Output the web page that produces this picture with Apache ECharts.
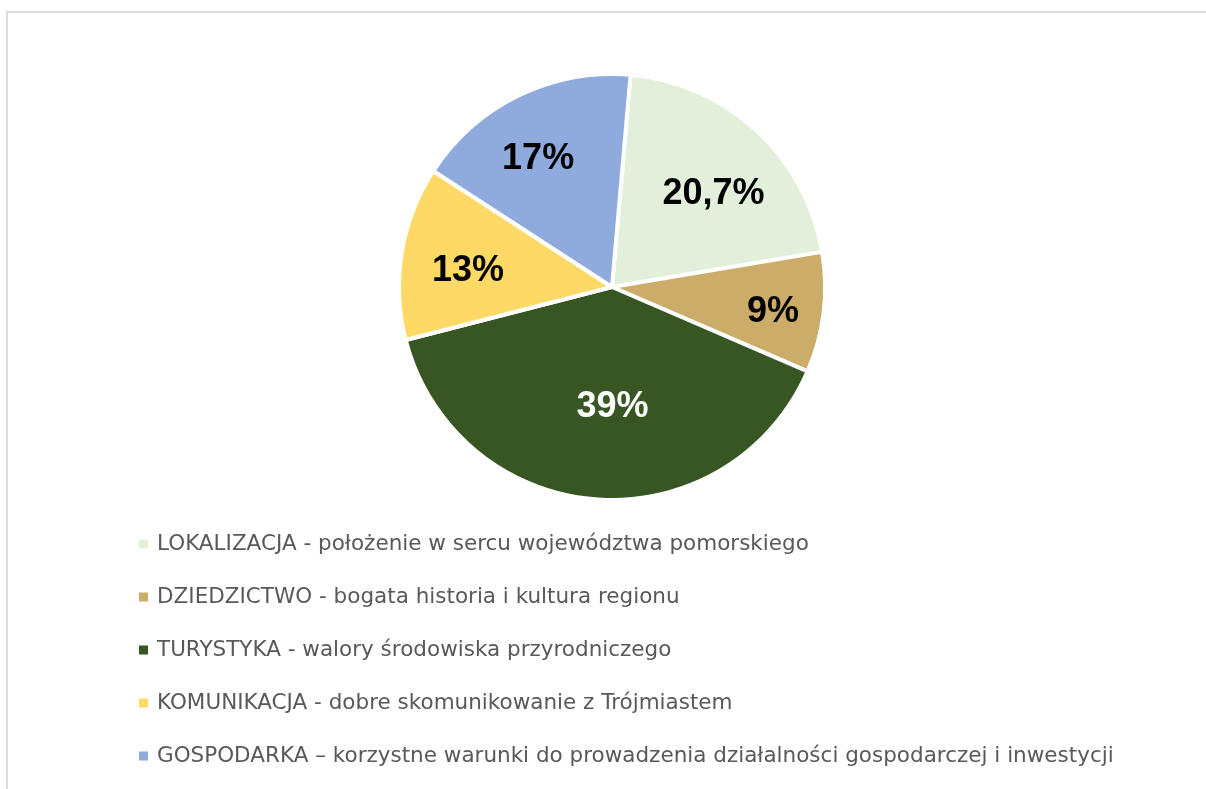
<!DOCTYPE html>
<html>
<head>
<meta charset="utf-8">
<script src="https://cdn.jsdelivr.net/npm/echarts@6/dist/echarts.min.js"></script>
<style>
  html, body { margin: 0; padding: 0; background: #fff; }
  #chart { width: 1206px; height: 789px; }
</style>
</head>
<body>
<div id="chart"></div>
<script>
// Categories, shares (%) and slice colours
const categories = [
  'LOKALIZACJA - położenie w sercu województwa pomorskiego',
  'DZIEDZICTWO - bogata historia i kultura regionu',
  'TURYSTYKA - walory środowiska przyrodniczego',
  'KOMUNIKACJA - dobre skomunikowanie z Trójmiastem',
  'GOSPODARKA – korzystne warunki do prowadzenia działalności gospodarczej i inwestycji'
];
const values = [20.7, 9, 39, 13, 17];
const valueLabels = ['20,7%', '9%', '39%', '13%', '17%'];
const colors = ['#E2EFDA', '#CCAC69', '#375623', '#FFD966', '#8FAADC'];
const labelColors = ['#000000', '#000000', '#ffffff', '#000000', '#000000'];

const R = 213;
const center = [612, 287];
const startAngle = 85;

// small nudges of the value labels inside their slices
const labelNudge = [[1, 16], [14, 7], [12, -27], [2, 8], [-9, 5]];

const pieData = categories.map((name, i) => ({
  name: name,
  value: values[i],
  itemStyle: { color: colors[i] }
}));

const labelData = categories.map((name, i) => ({
  name: name,
  value: values[i],
  label: { color: labelColors[i], formatter: valueLabels[i] }
}));

const chart = echarts.init(document.getElementById('chart'), null, { renderer: 'canvas' });
chart.setOption({
  animation: false,
  color: colors,
  graphic: [{
    type: 'rect',
    shape: { x: 7, y: 12, width: 1300, height: 900 },
    style: { fill: 'none', stroke: '#d9d9d9', lineWidth: 2 },
    silent: true
  }],
  legend: {
    orient: 'vertical',
    left: 139,
    top: 533,
    padding: 0,
    icon: 'rect',
    itemWidth: 9,
    itemHeight: 9,
    itemGap: 31,
    itemStyle: { borderWidth: 0 },
    selectedMode: false,
    data: categories,
    textStyle: {
      fontFamily: '"DejaVu Sans", sans-serif',
      fontSize: 21.5,
      lineHeight: 22,
      color: '#595959',
      padding: [0, 0, 0, 4]
    }
  },
  series: [
    {
      type: 'pie',
      center: center,
      radius: [0, R],
      startAngle: startAngle,
      clockwise: true,
      data: pieData,
      label: { show: false },
      labelLine: { show: false },
      itemStyle: { borderColor: '#ffffff', borderWidth: 4 },
      emphasis: { disabled: true },
      silent: true
    },
    {
      type: 'pie',
      center: center,
      radius: [77, R],
      startAngle: startAngle,
      clockwise: true,
      data: labelData,
      itemStyle: { color: 'rgba(0,0,0,0)' },
      label: {
        show: true,
        position: 'inside',
        fontFamily: '"Liberation Sans", Arial, sans-serif',
        fontWeight: 'bold',
        fontSize: 36
      },
      labelLayout: function (params) {
        const n = labelNudge[params.dataIndex];
        return { dx: n[0], dy: n[1] };
      },
      labelLine: { show: false },
      emphasis: { disabled: true },
      silent: true,
      legendHoverLink: false
    }
  ]
});
</script>
</body>
</html>
